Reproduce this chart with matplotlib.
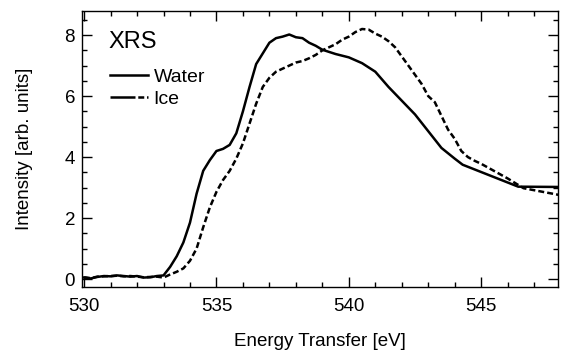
import matplotlib
matplotlib.use('Agg')
import matplotlib.pyplot as plt
from matplotlib.lines import Line2D
from matplotlib.ticker import MultipleLocator

plt.rcParams['font.family'] = ['Liberation Sans', 'DejaVu Sans']
plt.rcParams['lines.scale_dashes'] = False

# XRS oxygen K-edge spectra
energy_water = [530.0, 530.25, 530.5, 530.75, 531.0, 531.25, 531.5, 531.75, 532.0, 532.25,
                532.5, 532.75, 533.0, 533.25, 533.5, 533.75, 534.0, 534.25, 534.5, 534.75,
                535.0, 535.25, 535.5, 535.75, 536.0, 536.25, 536.5, 536.75, 537.0, 537.25,
                537.5, 537.75, 538.0, 538.25, 538.5, 538.75, 539.0, 539.5, 540.0, 540.5,
                541.0, 541.5, 542.0, 542.5, 543.0, 543.5, 544.0, 544.3, 546.4, 548.0]
water = [0.05, 0.02, 0.07, 0.10, 0.09, 0.12, 0.10, 0.08, 0.10, 0.05,
         0.06, 0.10, 0.12, 0.40, 0.75, 1.20, 1.85, 2.80, 3.55, 3.90,
         4.20, 4.27, 4.40, 4.78, 5.50, 6.30, 7.05, 7.40, 7.75, 7.90,
         7.95, 8.02, 7.93, 7.90, 7.75, 7.65, 7.52, 7.38, 7.27, 7.08,
         6.80, 6.30, 5.85, 5.40, 4.85, 4.30, 3.95, 3.75, 3.03, 3.02]

energy_ice = [530.0, 530.25, 530.5, 530.75, 531.0, 531.25, 531.5, 531.75, 532.0, 532.25,
              532.5, 532.75, 533.0, 533.25, 533.5, 533.75, 534.0, 534.25, 534.5, 534.75,
              535.0, 535.25, 535.5, 535.75, 536.0, 536.25, 536.5, 536.75, 537.0, 537.25,
              537.5, 537.75, 538.0, 538.25, 538.5, 538.75, 539.0, 539.25, 539.5, 539.75,
              540.0, 540.25, 540.5, 540.75, 541.0, 541.25, 541.5, 541.75, 542.0, 542.25,
              542.5, 542.75, 543.0, 543.25, 543.5, 543.75, 544.0, 544.25, 544.5, 544.75,
              545.0, 546.0, 546.6, 548.0]
ice = [0.06, 0.03, 0.08, 0.09, 0.10, 0.11, 0.09, 0.10, 0.08, 0.06,
       0.07, 0.08, 0.05, 0.15, 0.24, 0.35, 0.60, 1.00, 1.70, 2.35,
       2.86, 3.25, 3.55, 3.95, 4.45, 5.10, 5.75, 6.30, 6.60, 6.80,
       6.90, 7.00, 7.10, 7.15, 7.24, 7.35, 7.50, 7.60, 7.70, 7.85,
       7.95, 8.10, 8.20, 8.18, 8.05, 7.95, 7.80, 7.60, 7.30, 7.00,
       6.70, 6.40, 6.00, 5.80, 5.35, 4.90, 4.60, 4.20, 4.00, 3.88,
       3.78, 3.30, 2.98, 2.75]

fig = plt.figure(figsize=(5.63, 3.52), dpi=100)
ax = fig.add_axes([0.1456, 0.1855, 0.8454, 0.7841])

ax.plot(energy_water, water, color='black', lw=1.8)
ax.plot(energy_ice, ice, color='black', lw=1.8, dashes=(4.3, 2.2))

ax.set_xlim(529.92, 547.9)
ax.set_ylim(-0.25, 8.8)
ax.xaxis.set_major_locator(MultipleLocator(5))
ax.xaxis.set_minor_locator(MultipleLocator(1))
ax.yaxis.set_major_locator(MultipleLocator(2))
ax.yaxis.set_minor_locator(MultipleLocator(0.5))
ax.tick_params(which='both', direction='in', top=True, right=True, width=1.0,
               labelsize=13.5)
ax.tick_params(which='major', length=7, pad=5)
ax.tick_params(which='minor', length=3.6)
ax.tick_params(axis='x', which='major', pad=8)
for s in ax.spines.values():
    s.set_linewidth(1.0)

ax.set_xlabel('Energy Transfer [eV]', fontsize=13.5, labelpad=13)
ax.set_ylabel('Intensity [arb. units]', fontsize=13.5, labelpad=23)

ax.text(0.055, 0.887, 'XRS', transform=ax.transAxes, fontsize=17, va='center', ha='left')
h_water = Line2D([], [], color='black', lw=1.8)
h_ice = Line2D([], [], color='black', lw=1.8, dashes=(18, 2, 4.3, 2))
ax.legend([h_water, h_ice], ['Water', 'Ice'], loc='upper left',
          bbox_to_anchor=(0.03, 0.84), frameon=False, fontsize=14,
          handlelength=1.95, handletextpad=0.3, labelspacing=0.2, borderpad=0.2)

fig.savefig('out.png', dpi=100)
